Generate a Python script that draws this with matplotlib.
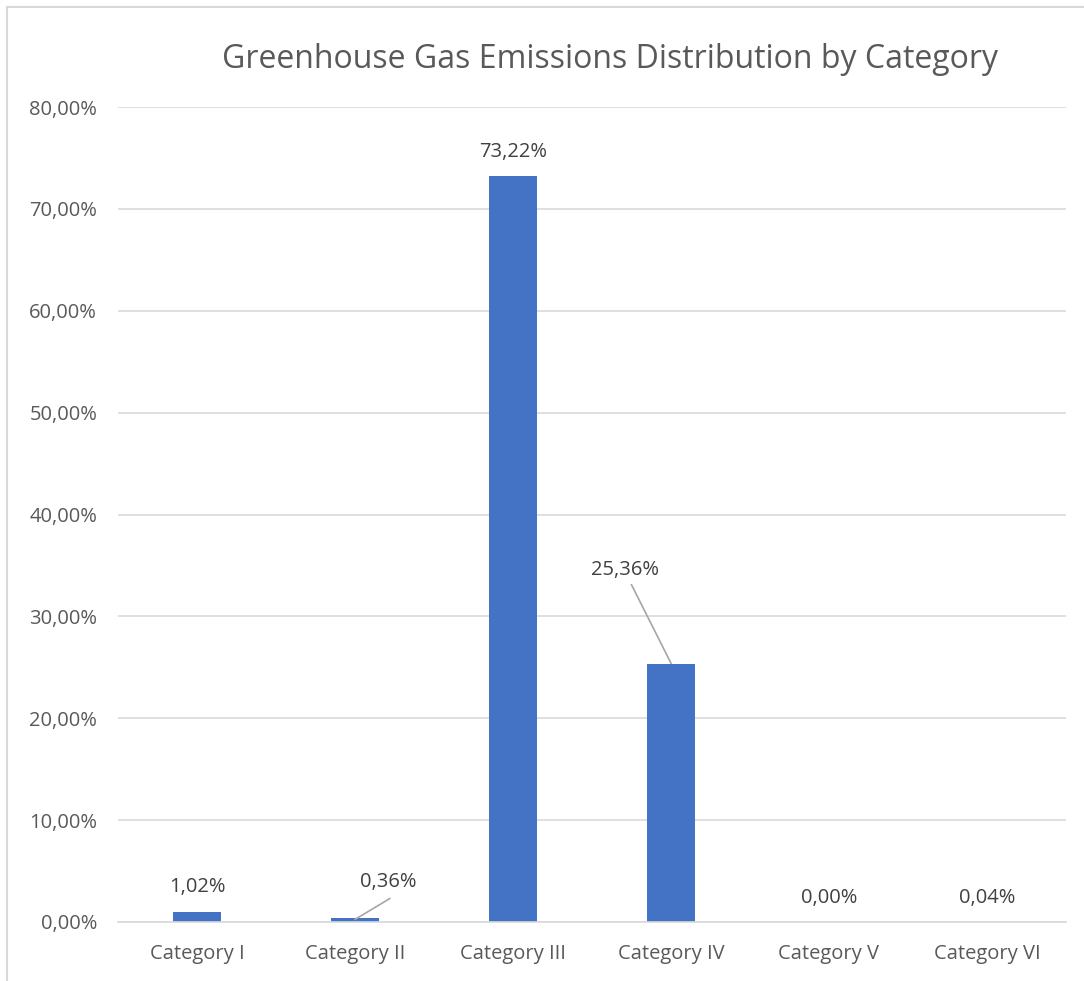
import matplotlib.pyplot as plt
from matplotlib.lines import Line2D

categories = ["Category I", "Category II", "Category III", "Category IV", "Category V", "Category VI"]
values = [1.02, 0.36, 73.22, 25.36, 0.00, 0.04]
labels = ["1,02%", "0,36%", "73,22%", "25,36%", "0,00%", "0,04%"]
yticks = [0, 10, 20, 30, 40, 50, 60, 70, 80]
ytick_labels = ["0,00%", "10,00%", "20,00%", "30,00%", "40,00%", "50,00%", "60,00%", "70,00%", "80,00%"]

text_color = "#595959"
label_color = "#404040"
grid_color = "#D9D9D9"
bar_color = "#4472C4"

plt.rcParams['font.family'] = ['Open Sans', 'DejaVu Sans']

fig = plt.figure(figsize=(10.84, 9.81), dpi=100)
W, H = 1084, 981

# chart area border (only top and left visible in the reference)
fig.add_artist(Line2D([7 / W, 1.0], [1 - 7 / H, 1 - 7 / H], transform=fig.transFigure,
                      color=grid_color, lw=1.5))
fig.add_artist(Line2D([7 / W, 7 / W], [0, 1 - 7 / H], transform=fig.transFigure,
                      color=grid_color, lw=1.5))

ax = fig.add_axes([118 / W, 1 - 922 / H, (1066 - 118) / W, (922 - 107) / H])
x = list(range(len(categories)))
ax.bar(x, values, width=0.31, color=bar_color, zorder=3)

ax.set_xlim(-0.5, len(categories) - 0.5)
ax.set_ylim(0, 80)
ax.set_yticks(yticks)
ax.set_yticklabels(ytick_labels)
ax.set_xticks(x)
ax.set_xticklabels(categories)
ax.tick_params(axis='both', length=0, colors=text_color, labelsize=14.5)
ax.tick_params(axis='y', pad=15)
ax.tick_params(axis='x', pad=16)
ax.grid(axis='y', color=grid_color, lw=1.2, zorder=0)
for side in ["top", "right", "left"]:
    ax.spines[side].set_visible(False)
ax.spines["bottom"].set_color(grid_color)
ax.spines["bottom"].set_linewidth(1.2)
ax.spines["bottom"].set_zorder(4)

# data labels (some with leader lines, as in the original)
label_pos = {
    0: (0, 3.4),
    1: (1.21, 3.9),
    2: (2, 75.6),
    3: (2.71, 34.6),
    4: (4, 2.4),
    5: (5, 2.4),
}
for i, (v, lab) in enumerate(zip(values, labels)):
    lx, ly = label_pos[i]
    ax.text(lx, ly, lab, ha='center', va='center', fontsize=14.5, color=label_color, zorder=5)
ax.plot([1.0, 1.22], [0.25, 2.3], color="#A6A6A6", lw=1.2, zorder=5)
ax.plot([2.75, 3.0], [33.1, 25.4], color="#A6A6A6", lw=1.2, zorder=5)

fig.text(610 / W, 1 - 60 / H, "Greenhouse Gas Emissions Distribution by Category",
         ha='center', va='center', fontsize=23, color=text_color)

fig.savefig("out.png", dpi=100)
